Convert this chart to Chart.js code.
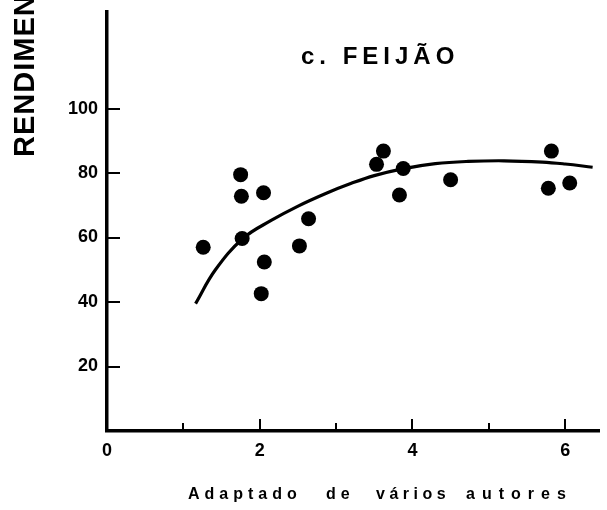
<!DOCTYPE html>
<html>
<head>
<meta charset="utf-8">
<script src="https://cdn.jsdelivr.net/npm/chart.js@4/dist/chart.umd.min.js"></script>
<style>
  html, body { margin: 0; padding: 0; background: #fff; }
  #wrap { width: 607px; height: 510px; }
</style>
</head>
<body>
<div id="wrap"><canvas id="chart" width="607" height="510"></canvas></div>
<script>
// Observed yields (scatter dots)
const obsX = [1.26, 1.75, 1.76, 1.77, 2.05, 2.06, 2.02, 2.52, 2.64, 3.53, 3.62, 3.88, 3.83, 4.50, 5.82, 5.78, 6.06];
const obsY = [57.0, 79.5, 72.8, 59.7, 73.9, 52.4, 42.6, 57.4, 65.8, 82.7, 86.8, 81.4, 73.2, 77.9, 86.8, 75.3, 76.9];

// Fitted response curve
const curveX = [1.16, 1.42, 1.78, 2.15, 2.49, 2.88, 3.20, 3.50, 3.87, 4.30, 4.73, 5.20, 5.70, 6.00, 6.36];
const curveY = [39.5, 50.0, 59.7, 65.3, 69.6, 73.8, 76.8, 79.2, 81.3, 82.9, 83.6, 83.8, 83.4, 82.8, 81.8];

// Axis ticks
const xTickLabels = [0, 2, 4, 6];
const xMinorTicks = [1, 3, 5];
const yTickLabels = [20, 40, 60, 80, 100];

// Texts
const titleText = 'c. FEIJÃO';
const yTitleText = 'RENDIMEN';
const footerWords = ['Adaptado', 'de', 'vários', 'autores'];

const toPoints = (xs, ys) => xs.map((x, i) => ({ x: x, y: ys[i] }));

// Inward tick marks on both axes
const tickMarks = {
  id: 'tickMarks',
  afterDraw(chart) {
    const { ctx, scales: { x, y } } = chart;
    ctx.save();
    ctx.strokeStyle = '#000';
    ctx.lineWidth = 2;
    const y0 = y.getPixelForValue(0);
    const x0 = x.getPixelForValue(0);
    ctx.beginPath();
    xTickLabels.filter(v => v > 0).forEach(v => {
      const px = Math.round(x.getPixelForValue(v));
      ctx.moveTo(px, y0); ctx.lineTo(px, y0 - 12);
    });
    xMinorTicks.forEach(v => {
      const px = Math.round(x.getPixelForValue(v));
      ctx.moveTo(px, y0); ctx.lineTo(px, y0 - 8);
    });
    yTickLabels.forEach(v => {
      const py = Math.round(y.getPixelForValue(v));
      ctx.moveTo(x0, py); ctx.lineTo(x0 + 13, py);
    });
    ctx.stroke();
    ctx.restore();
  }
};

// Panel title, vertical axis title and source note
const annotations = {
  id: 'annotations',
  afterDraw(chart) {
    const { ctx } = chart;
    ctx.save();
    ctx.fillStyle = '#000';

    ctx.font = 'bold 24px "Liberation Sans", Arial, sans-serif';
    ctx.letterSpacing = '5px';
    ctx.textBaseline = 'alphabetic';
    ctx.textAlign = 'left';
    ctx.fillText(titleText, 301, 64);

    ctx.save();
    ctx.translate(34, 157);
    ctx.rotate(-Math.PI / 2);
    ctx.font = 'bold 29px "Liberation Sans", Arial, sans-serif';
    ctx.letterSpacing = '1px';
    ctx.fillText(yTitleText, 0, 0);
    ctx.restore();

    ctx.font = 'bold 16px "Liberation Sans", Arial, sans-serif';
    const starts = [188, 326, 376, 466];
    const spacing = [5, 5, 4.5, 7];
    footerWords.forEach((w, i) => {
      ctx.letterSpacing = spacing[i] + 'px';
      ctx.fillText(w, starts[i], 499);
    });
    ctx.restore();
  }
};

new Chart(document.getElementById('chart'), {
  type: 'scatter',
  data: {
    datasets: [
      {
        label: 'curve',
        data: toPoints(curveX, curveY),
        showLine: true,
        borderColor: '#000',
        borderWidth: 3.2,
        pointRadius: 0,
        tension: 0.4,
        fill: false
      },
      {
        label: 'obs',
        data: toPoints(obsX, obsY),
        backgroundColor: '#000',
        borderColor: '#000',
        pointRadius: 7.5,
        pointBorderWidth: 0
      }
    ]
  },
  options: {
    responsive: false,
    animation: false,
    devicePixelRatio: 1,
    layout: { padding: { top: 11, right: 4, left: 0, bottom: 0 } },
    plugins: { legend: { display: false }, tooltip: { enabled: false }, title: { display: false } },
    scales: {
      x: {
        type: 'linear',
        min: 0,
        max: 6.45,
        afterBuildTicks: s => { s.ticks = xTickLabels.map(v => ({ value: v })); },
        afterFit: s => { s.height = 79; },
        grid: { display: false },
        border: { display: true, color: '#000', width: 3.5 },
        ticks: {
          color: '#000',
          padding: 1,
          maxRotation: 0,
          font: { family: '"Liberation Sans", Arial, sans-serif', size: 18, weight: 'bold' }
        }
      },
      y: {
        type: 'linear',
        min: 0,
        max: 130,
        afterBuildTicks: s => { s.ticks = yTickLabels.map(v => ({ value: v })); },
        afterFit: s => { s.width = 107; },
        grid: { display: false },
        border: { display: true, color: '#000', width: 3.5 },
        ticks: {
          color: '#000',
          padding: 1,
          font: { family: '"Liberation Sans", Arial, sans-serif', size: 18, weight: 'bold' }
        }
      }
    }
  },
  plugins: [tickMarks, annotations]
});
</script>
</body>
</html>
